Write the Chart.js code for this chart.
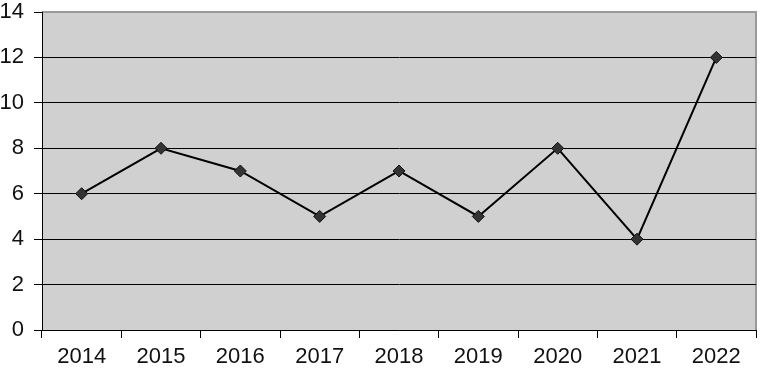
<!DOCTYPE html>
<html>
<head>
<meta charset="utf-8">
<script src="https://cdn.jsdelivr.net/npm/chart.js@4/dist/chart.umd.min.js"></script>
<style>
  html, body { margin: 0; padding: 0; background: #ffffff; }
  #wrap { width: 763px; height: 380px; }
</style>
</head>
<body>
<div id="wrap"><canvas id="cases_chart"></canvas></div>
<script>
// values
const years = ["2014", "2015", "2016", "2017", "2018", "2019", "2020", "2021", "2022"];
const counts = [6, 8, 7, 5, 7, 5, 8, 4, 12];
const yMin = 0;
const yMax = 14;
const yStep = 2;

// grey plot area with a thin darker frame on top and right
const plotBack = {
    id: "plotBack",
    beforeDraw(chart) {
        let a = chart.chartArea;
        let ctx = chart.ctx;
        ctx.save();
        ctx.fillStyle = "#d0d0d0";
        ctx.fillRect(a.left, a.top, a.right - a.left, a.bottom - a.top);
        ctx.strokeStyle = "#9a9a9a";
        ctx.lineWidth = 2;
        ctx.beginPath();
        ctx.moveTo(a.left, a.top);
        ctx.lineTo(a.right, a.top);
        ctx.lineTo(a.right, a.bottom);
        ctx.stroke();
        ctx.restore();
    }
};

new Chart("cases_chart", {
    type: "line",
    data: {
        labels: years,
        datasets: [{
            data: counts,
            borderColor: "#000000",
            borderWidth: 2,
            pointStyle: "rectRot",
            pointRadius: 6,
            pointBackgroundColor: "#333333",
            pointBorderColor: "#111111",
            pointBorderWidth: 1,
            tension: 0,
            fill: false
        }]
    },
    plugins: [plotBack],
    options: {
        responsive: true,
        maintainAspectRatio: false,
        animation: false,
        layout: { padding: { top: 0, right: 5, left: 0, bottom: 0 } },
        plugins: {
            legend: { display: false },
            title: { display: false },
            tooltip: { enabled: false }
        },
        scales: {
            x: {
                offset: true,
                grid: {
                    offset: true,
                    drawOnChartArea: false,
                    tickLength: 8,
                    tickColor: "#000000"
                },
                border: { color: "#000000", width: 1 },
                ticks: {
                    color: "#111111",
                    padding: 6,
                    font: { family: "Liberation Sans", size: 22 }
                },
                afterFit(scale) { scale.height = 50; }
            },
            y: {
                min: yMin,
                max: yMax,
                grid: {
                    color: (c) => (c.tick && c.tick.value === yMax) ? "rgba(0,0,0,0)" : "#000000",
                    lineWidth: 1,
                    tickLength: 8,
                    tickColor: "#000000"
                },
                border: { color: "#000000", width: 1 },
                ticks: {
                    stepSize: yStep,
                    color: "#111111",
                    padding: 10,
                    font: { family: "Liberation Sans", size: 22 }
                },
                afterFit(scale) {
                    scale.width = 42;
                    scale.paddingTop = 12;
                }
            }
        }
    }
});
</script>
</body>
</html>
